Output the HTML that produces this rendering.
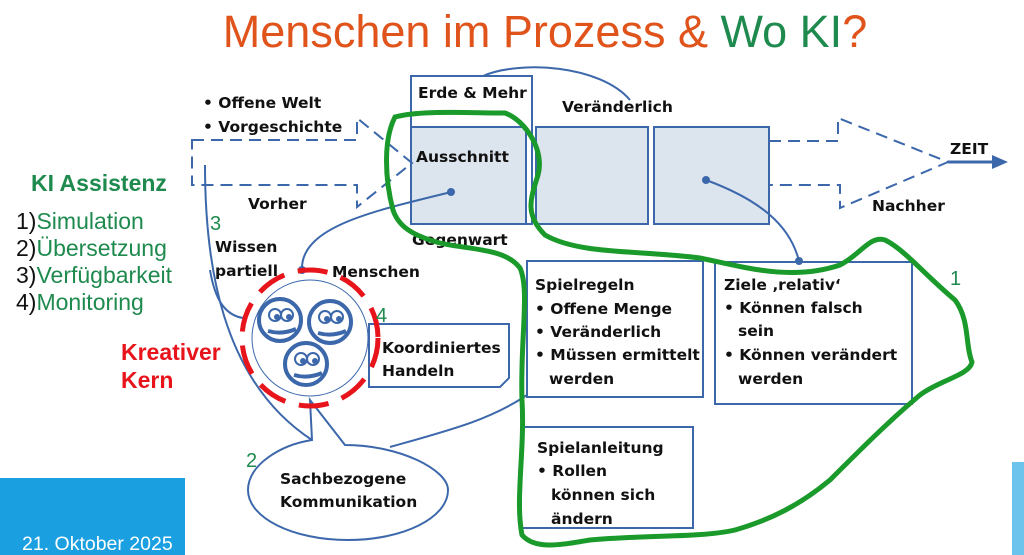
<!DOCTYPE html>
<html><head><meta charset="utf-8"><style>
html,body{margin:0;padding:0;background:#fff;}
svg{display:block;font-family:"Liberation Sans",sans-serif;}
.b{font-weight:bold;font-size:15.5px;fill:#111;font-family:"DejaVu Sans","Liberation Sans",sans-serif;}
</style></head><body>
<svg width="1024" height="555" viewBox="0 0 1024 555" xmlns="http://www.w3.org/2000/svg">
<rect x="0" y="478" width="185" height="77" fill="#1a9fe0"/>
<text x="22" y="550" font-size="19.5" fill="#fff">21. Oktober 2025</text>
<rect x="1012" y="462" width="12" height="93" fill="#6cc4ec"/>
<text x="545" y="47" font-size="45" text-anchor="middle" fill="#e0531a">Menschen im Prozess &amp; <tspan fill="#1e8a4e">Wo KI</tspan>?</text>

<text x="31" y="191" font-size="23" font-weight="bold" fill="#1e8a4e">KI Assistenz</text>
<g font-size="23" fill="#1e8a4e">
<text x="16" y="229"><tspan fill="#111">1)</tspan>Simulation</text>
<text x="16" y="256"><tspan fill="#111">2)</tspan>Übersetzung</text>
<text x="16" y="283"><tspan fill="#111">3)</tspan>Verfügbarkeit</text>
<text x="16" y="310"><tspan fill="#111">4)</tspan>Monitoring</text>
</g>
<text x="121" y="360" font-size="23" font-weight="bold" fill="#e8141b">Kreativer</text>
<text x="121" y="388" font-size="23" font-weight="bold" fill="#e8141b">Kern</text>

<g fill="none" stroke="#3c68ab" stroke-width="2">
<rect x="411" y="76" width="121" height="148"/>
<rect x="411" y="127" width="115" height="97" fill="#dce4ee"/>
<rect x="536" y="127" width="112" height="97" fill="#dce4ee"/>
<rect x="654" y="127" width="115" height="97" fill="#dce4ee"/>
<path d="M192 140 H357 V118 L412 163 L357 207 V185 H192 Z" stroke-dasharray="12 7"/>
<path d="M769 141 H838 V118 L948 162 L840 208 V185 H769" stroke-dasharray="12 7"/>
<path d="M483 76 C520 60 600 65 630 100"/>
<path d="M451 192 C380 210 300 225 302 270"/>
<path d="M706 180 C760 200 790 225 799 261"/>
<path d="M205 165 C205 260 220 380 312 440"/>
<path d="M210 270 C215 300 225 315 243 318"/>
<path d="M390 447 C450 430 490 420 527 395"/>
<rect x="527" y="261" width="176" height="136" fill="#fff"/>
<rect x="521" y="427" width="172" height="101" fill="#fff"/>
<rect x="715" y="262" width="197" height="142" fill="#fff"/>
<path d="M369 324 H509 V378 L500 387 H369 Z" fill="#fff"/>
<path d="M312 440 L310 400 L345 445 C400 445 448 470 448 490 C448 518 403 540 348 540 C293 540 248 518 248 490 C248 465 280 445 312 440 Z" fill="#fff"/>
<circle cx="310" cy="338" r="58" stroke-width="1" fill="#fff"/>
</g>
<g fill="#3c68ab"><circle cx="451" cy="192" r="4"/><circle cx="706" cy="180" r="4"/><circle cx="799" cy="261" r="4"/><circle cx="302" cy="270" r="4"/></g>
<line x1="948" y1="162" x2="995" y2="162" stroke="#3c68ab" stroke-width="3"/>
<path d="M992 155 L1008 162 L992 169 Z" fill="#3c68ab"/>
<circle cx="310" cy="338" r="68" fill="none" stroke="#e8141b" stroke-width="5" stroke-dasharray="30 14"/>
<g fill="none" stroke="#3c68ab" stroke-width="4">
<circle cx="280" cy="320" r="21"/><circle cx="330" cy="322" r="21"/><circle cx="306" cy="364" r="21"/>
<path d="M268 331 Q282 335 296 329"/><path d="M318 333 Q332 337 346 331"/><path d="M294 375 Q308 379 322 373"/>
</g>
<g fill="#3c68ab" stroke="#3c68ab" stroke-width="2">
<circle cx="275" cy="315" r="6" fill="none"/><circle cx="287" cy="315" r="6" fill="none"/>
<circle cx="325" cy="317" r="6" fill="none"/><circle cx="337" cy="317" r="6" fill="none"/>
<circle cx="301" cy="359" r="6" fill="none"/><circle cx="313" cy="359" r="6" fill="none"/>
<circle cx="277" cy="317" r="2"/><circle cx="289" cy="317" r="2"/><circle cx="327" cy="319" r="2"/><circle cx="339" cy="319" r="2"/><circle cx="303" cy="361" r="2"/><circle cx="315" cy="361" r="2"/>
</g>

<g>
<text class="b" x="203" y="108">• Offene Welt</text>
<text class="b" x="203" y="132">• Vorgeschichte</text>
<text class="b" x="248" y="209">Vorher</text>
<text class="b" x="418" y="98">Erde &amp; Mehr</text>
<text class="b" x="562" y="112">Veränderlich</text>
<text class="b" x="416" y="162">Ausschnitt</text>
<text class="b" x="412" y="245">Gegenwart</text>
<text class="b" x="872" y="211">Nachher</text>
<text class="b" x="950" y="154" font-size="14">ZEIT</text>
<text class="b" x="215" y="252">Wissen</text>
<text class="b" x="215" y="276">partiell</text>
<text class="b" x="332" y="277">Menschen</text>
<text class="b" x="382" y="353">Koordiniertes</text>
<text class="b" x="382" y="376">Handeln</text>
<text class="b" x="280" y="484">Sachbezogene</text>
<text class="b" x="280" y="507">Kommunikation</text>
<text class="b" x="535" y="290">Spielregeln</text>
<text class="b" x="535" y="314">• Offene Menge</text>
<text class="b" x="535" y="337">• Veränderlich</text>
<text class="b" x="535" y="360">• Müssen ermittelt</text>
<text class="b" x="549" y="384">werden</text>
<text class="b" x="537" y="453">Spielanleitung</text>
<text class="b" x="537" y="476">• Rollen</text>
<text class="b" x="551" y="500">können sich</text>
<text class="b" x="551" y="524">ändern</text>
<text class="b" x="724" y="290">Ziele ‚relativ‘</text>
<text class="b" x="724" y="313">• Können falsch</text>
<text class="b" x="738" y="336">sein</text>
<text class="b" x="724" y="360">• Können verändert</text>
<text class="b" x="738" y="384">werden</text>
</g>
<g font-size="20" fill="#1e8a4e">
<text x="210" y="230">3</text><text x="376" y="322">4</text><text x="246" y="467">2</text><text x="950" y="285">1</text>
</g>
<path d="M395 117 C420 110 470 113 505 113 C525 120 545 150 538 175 C530 200 525 215 545 235 C580 255 640 250 700 258 C740 266 790 282 840 265 C860 255 870 235 885 240 C905 250 925 275 955 300 C970 320 965 345 972 362 C970 375 940 380 920 395 C890 420 860 450 830 480 C800 505 770 520 735 530 C700 538 640 535 590 540 C560 545 535 550 522 535 C515 500 525 450 522 400 C520 340 530 290 520 268 C505 248 470 250 440 243 C410 235 398 225 393 210 C385 180 383 140 395 117 Z" fill="none" stroke="#1a9a2a" stroke-width="5"/>
</svg>
</body></html>
